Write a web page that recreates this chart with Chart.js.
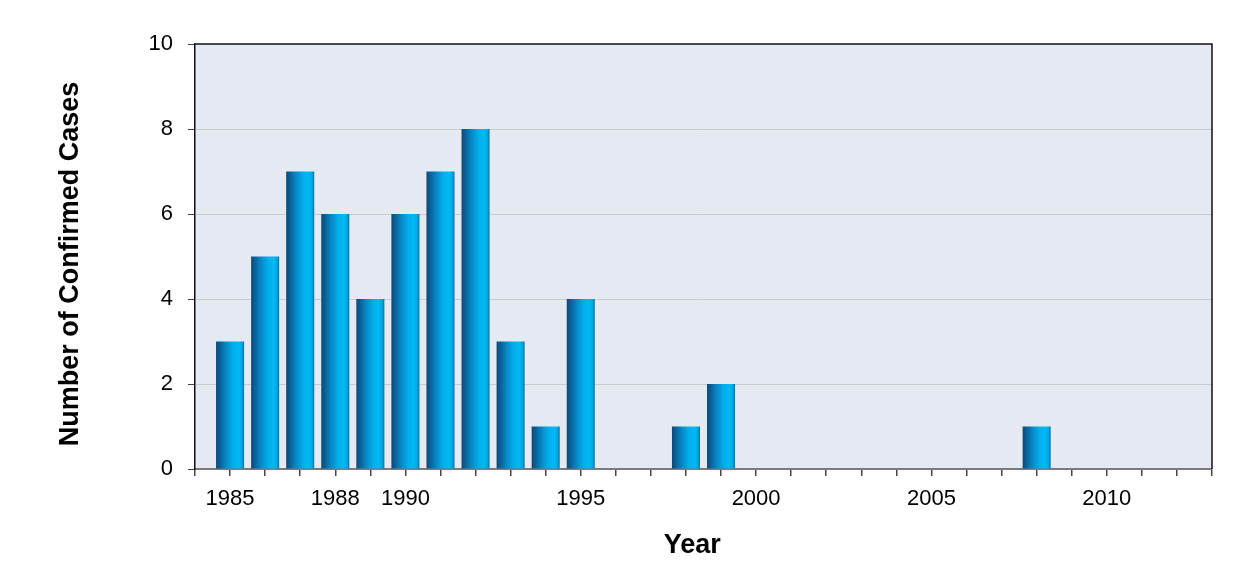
<!DOCTYPE html>
<html>
<head>
<meta charset="utf-8">
<script src="https://cdn.jsdelivr.net/npm/chart.js@4.4.1/dist/chart.umd.min.js"></script>
<style>
  html, body { margin: 0; padding: 0; background: #fff; }
  #wrap { width: 1260px; height: 585px; }
</style>
</head>
<body>
<div id="wrap"><canvas id="casos" width="1260" height="585"></canvas></div>
<script>
const years = [1985, 1986, 1987, 1988, 1989, 1990, 1991, 1992, 1993, 1994, 1995, 1996, 1997, 1998,
               1999, 2000, 2001, 2002, 2003, 2004, 2005, 2006, 2007, 2008, 2009, 2010, 2011, 2012];
const cases = [3, 5, 7, 6, 4, 6, 7, 8, 3, 1, 4, 0, 0, 1,
               2, 0, 0, 0, 0, 0, 0, 0, 0, 1, 0, 0, 0, 0];
const labeledYears = [1985, 1988, 1990, 1995, 2000, 2005, 2010];
const yTicks = [0, 2, 4, 6, 8, 10];

const fuente = 'Liberation Sans, Arial, sans-serif';

// fondo y marco del area de trazado
const plotFrame = {
    id: 'plotFrame',
    beforeDraw(chart) {
        const { ctx, chartArea: a } = chart;
        ctx.save();
        ctx.fillStyle = '#e5e9f1';
        ctx.fillRect(a.left, a.top, a.right - a.left, a.bottom - a.top);
        ctx.restore();
    },
    afterDraw(chart) {
        const { ctx, chartArea: a } = chart;
        ctx.save();
        ctx.strokeStyle = '#111';
        ctx.lineWidth = 1.5;
        ctx.beginPath();
        ctx.moveTo(a.left, a.top);
        ctx.lineTo(a.right, a.top);
        ctx.lineTo(a.right, a.bottom);
        ctx.stroke();
        ctx.restore();
    }
};

// degradado horizontal tipo cilindro para cada barra
const barFill = (context) => {
    const chart = context.chart;
    const x = chart.scales.x;
    if (!x || context.dataIndex === undefined || !chart.chartArea) return '#05a4e0';
    const cx = x.getPixelForValue(years[context.dataIndex]);
    const w = (x.getPixelForValue(years[1]) - x.getPixelForValue(years[0])) * 0.8;
    if (!isFinite(cx) || !(w > 0)) return '#05a4e0';
    const g = chart.ctx.createLinearGradient(cx - w / 2, 0, cx + w / 2, 0);
    g.addColorStop(0, '#0b4a7a');
    g.addColorStop(0.1, '#0a5a90');
    g.addColorStop(0.35, '#0788c6');
    g.addColorStop(0.6, '#02aeea');
    g.addColorStop(0.8, '#00b9f5');
    g.addColorStop(0.92, '#05a6e0');
    g.addColorStop(1, '#1d6a94');
    return g;
};

const ctx = document.getElementById('casos').getContext('2d');

const grafico = new Chart(ctx, {
    type: 'bar',
    data: {
        datasets: [{
            label: 'Confirmed cases',
            data: years.map((y, i) => ({ x: y, y: cases[i] })),
            backgroundColor: barFill,
            borderWidth: 0,
            categoryPercentage: 1.0,
            barPercentage: 0.8
        }]
    },
    options: {
        responsive: false,
        animation: false,
        layout: { padding: { left: 0, right: 48, top: 44, bottom: 0 } },
        plugins: {
            legend: { display: false },
            tooltip: { enabled: false }
        },
        scales: {
            x: {
                type: 'linear',
                min: 1984,
                max: 2013,
                offset: false,
                afterFit: (s) => { s.height = 116; },
                grid: {
                    offset: false,
                    drawOnChartArea: false,
                    drawTicks: true,
                    tickLength: 7,
                    tickColor: '#444',
                    lineWidth: 1.5
                },
                border: { color: '#7a7a7a', width: 2 },
                ticks: {
                    stepSize: 1,
                    autoSkip: false,
                    maxRotation: 0,
                    maxTicksLimit: 50,
                    padding: 10,
                    color: '#000',
                    font: { family: fuente, size: 22 },
                    callback: (v) => labeledYears.includes(v) ? String(v) : ''
                },
                title: {
                    display: true,
                    text: 'Year   ',
                    color: '#000',
                    font: { family: fuente, size: 27, weight: 'bold' },
                    padding: { top: 0, bottom: 23 }
                }
            },
            y: {
                min: 0,
                max: 10,
                afterFit: (s) => { s.width = 195; },
                afterBuildTicks: (s) => { s.ticks = yTicks.map(v => ({ value: v })); },
                grid: {
                    color: (c) => (c.tick && (c.tick.value === 0 || c.tick.value === 10)) ? 'rgba(0,0,0,0)' : '#c9cbd0',
                    tickColor: '#444',
                    tickLength: 7,
                    lineWidth: 1
                },
                border: { color: '#111', width: 1.5 },
                ticks: {
                    padding: 15,
                    color: '#000',
                    font: { family: fuente, size: 22 }
                },
                title: {
                    display: true,
                    text: 'Number of Confirmed Cases  ',
                    color: '#000',
                    font: { family: fuente, size: 27, weight: 'bold' },
                    padding: { top: 54, bottom: 0 }
                }
            }
        }
    },
    plugins: [plotFrame]
});
</script>
</body>
</html>
